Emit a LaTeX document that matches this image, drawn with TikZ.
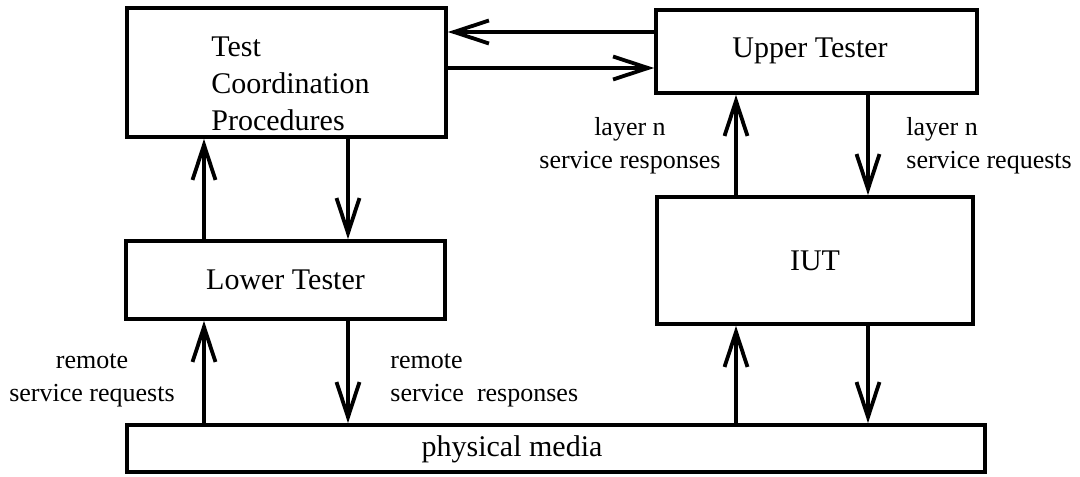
\documentclass[tikz,border=0pt]{standalone}
\usepackage{fontspec}
\setmainfont{Liberation Serif}
\usetikzlibrary{arrows.meta}

\tikzset{
  blk/.style={draw, line width=1.9pt, inner sep=0pt},
  bigtxt/.style={font=\fontsize{15}{18.5}\selectfont, inner sep=0pt},
  smalltxt/.style={font=\fontsize{13}{16.5}\selectfont, inner sep=0pt},
  flow/.style={line width=1.9pt, -{Straight Barb[length=17.5pt,width=11.5pt,line width=1.9pt]}}
}

\begin{document}
\begin{tikzpicture}[x=0.5pt, y=-0.5pt]
  \useasboundingbox (0,0) rectangle (1080,476);

  % boxes
  \node[blk, minimum width=159.5pt, minimum height=64.5pt] (tcp) at (286.5,72.5) {};
  \node[bigtxt, anchor=west, align=left] (tcptxt) at (211,84)
       {Test\\Coordination\\Procedures};
  \node[blk, minimum width=160.5pt, minimum height=41.5pt] (ut) at (816.5,51.5) {};
  \node[bigtxt] (uttxt) at (810,51) {Upper Tester};
  \node[blk, bigtxt, minimum width=159.5pt, minimum height=39pt] (lt) at (285.5,280) {Lower Tester};
  \node[blk, bigtxt, minimum width=158pt, minimum height=63.5pt] (iut) at (815,260.5) {IUT};
  \node[blk, minimum width=429pt, minimum height=23.5pt] (pm) at (556,448.5) {};
  \node[bigtxt] (pmtxt) at (512,449) {physical media};

  % x positions of the vertical connectors
  \coordinate (xa) at (204,0);
  \coordinate (xb) at (348,0);
  \coordinate (xc) at (736,0);
  \coordinate (xd) at (868,0);
  % y positions of the horizontal connectors
  \coordinate (ya) at (0,32);
  \coordinate (yb) at (0,68);

  % Test Coordination Procedures <-> Upper Tester
  \draw[flow] (ut.west |- ya) -- (tcp.east |- ya);
  \draw[flow] (tcp.east |- yb) -- (ut.west |- yb);

  % Test Coordination Procedures <-> Lower Tester
  \draw[flow] (lt.north -| xa) -- (tcp.south -| xa);
  \draw[flow] (tcp.south -| xb) -- (lt.north -| xb);

  % Lower Tester <-> physical media
  \draw[flow] (pm.north -| xa) -- (lt.south -| xa);
  \draw[flow] (lt.south -| xb) -- (pm.north -| xb);

  % Upper Tester <-> IUT
  \draw[flow] (iut.north -| xc) -- (ut.south -| xc);
  \draw[flow] (ut.south -| xd) -- (iut.north -| xd);

  % IUT <-> physical media
  \draw[flow] (pm.north -| xc) -- (iut.south -| xc);
  \draw[flow] (iut.south -| xd) -- (pm.north -| xd);

  % connector labels
  \node[smalltxt, align=center, anchor=east] (lbl1) at (721,146)
       {layer n\\service responses};
  \node[smalltxt, align=left, anchor=west] (lbl2) at (906,146)
       {layer n\\service requests};
  \node[smalltxt, align=center] (lbl3) at (92,380)
       {remote\\service requests};
  \node[smalltxt, align=left, anchor=west] (lbl4) at (390,380)
       {remote\\service\ \ responses};
\end{tikzpicture}
\end{document}
